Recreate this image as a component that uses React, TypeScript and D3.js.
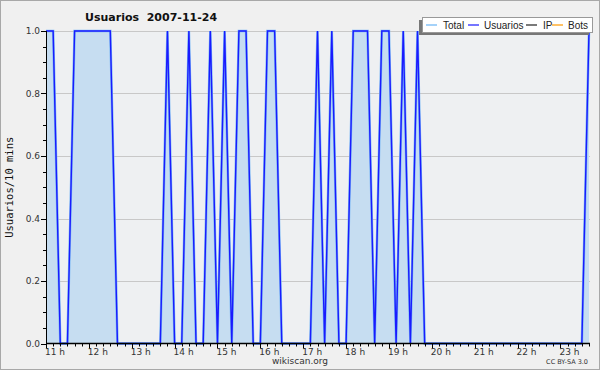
import React from "react";
import * as d3 from "d3";

const hourLabels = ["11 h", "12 h", "13 h", "14 h", "15 h", "16 h", "17 h", "18 h", "19 h", "20 h", "21 h", "22 h", "23 h"];
// 10-minute samples starting 11:00 (77 points, up to 23:40)
const usuarios = [
  1, 1, 0, 0, 1, 1, 1, 1, 1, 1, 0, 0, 0, 0, 0, 0, 0, 1, 0, 0,
  1, 0, 0, 1, 0, 1, 0, 1, 1, 0, 0, 1, 1, 0, 0, 0, 0, 0, 1, 0,
  1, 0, 0, 1, 1, 1, 0, 1, 1, 0, 1, 0, 1, 0, 0, 0, 0, 0, 0, 0,
  0, 0, 0, 0, 0, 0, 0, 0, 0, 0, 0, 0, 0, 0, 0, 0, 1,
];
const total = usuarios;
const yTicks = [0, 0.2, 0.4, 0.6, 0.8, 1.0];
const legendItems = [
  { label: "Total", color: "#6ab4f5" },
  { label: "Usuarios", color: "#1a1aff" },
  { label: "IP", color: "#222222" },
  { label: "Bots", color: "#ff9900" },
];

export default function App() {
  const W = 600, H = 370;
  const left = 46, right = 589, top = 31, bottom = 343.5;
  const x = d3.scaleLinear().domain([0, usuarios.length - 1]).range([left, right]);
  const y = d3.scaleLinear().domain([0, 1]).range([bottom, top]);
  const area = d3.area<number>().x((_, i) => x(i)).y0(y(0)).y1((d) => y(d));
  const line = d3.line<number>().x((_, i) => x(i)).y((d) => y(d));
  const minorY = d3.range(0, 1.0001, 0.05);
  const font = "'DejaVu Sans', Verdana, sans-serif";
  const legFont = "'Liberation Sans', Arial, sans-serif";

  // legend layout
  const legX = 422, legY = 17, legW = 170, legH = 15;
  const legPos = [426, 468, 526, 552];
  const legText = [443, 484, 543, 568];

  return (
    <svg width={W} height={H} style={{ position: "absolute", left: 0, top: 0 }} fontFamily={font}>
      <rect x={0.5} y={0.5} width={W - 1} height={H - 1} fill="#f0f0f0" stroke="#a8a8a8" />
      <rect x={left} y={top} width={right - left + 1} height={bottom - top} fill="#eef0f2" />
      {yTicks.slice(1).map((t) => (
        <line key={"g" + t} x1={left} x2={right + 1} y1={Math.round(y(t)) + 0.5} y2={Math.round(y(t)) + 0.5} stroke="#c8c8c8" />
      ))}
      <path d={area(total) || ""} fill="#c6ddf1" />
      <path d={line(total) || ""} fill="none" stroke="#7ab8f5" strokeWidth={2.5} />
      <path d={line(usuarios) || ""} fill="none" stroke="#1a1aff" strokeWidth={1.4} />

      {/* y axis */}
      <line x1={left + 0.5} x2={left + 0.5} y1={top} y2={bottom} stroke="#000" />
      {minorY.map((t, i) => (
        <line key={"my" + i} x1={left - (i % 4 === 0 ? 5 : 3)} x2={left} y1={Math.round(y(t)) + 0.5} y2={Math.round(y(t)) + 0.5} stroke="#000" />
      ))}
      {yTicks.map((t) => (
        <text key={"yl" + t} x={40} y={y(t) + 3} fontSize={9} textAnchor="end" fill="#333">
          {t.toFixed(1)}
        </text>
      ))}
      <text transform={`translate(13,${(top + bottom) / 2}) rotate(-90)`} fontSize={10.5} textAnchor="middle" fontFamily="'DejaVu Sans Mono', monospace" fill="#111">
        Usuarios/10 mins
      </text>

      {/* x axis */}
      <line x1={left} x2={right + 1} y1={bottom} y2={bottom} stroke="#000" strokeWidth={1.6} />
      {usuarios.map((_, i) => (
        <line key={"mx" + i} x1={Math.round(x(i)) + 0.5} x2={Math.round(x(i)) + 0.5} y1={bottom} y2={bottom + (i % 6 === 0 ? 5 : 3)} stroke="#000" />
      ))}
      {hourLabels.map((h, i) => (
        <text key={h} x={x(i * 6) - 1} y={bottom + 11} fontSize={9} fill="#333">
          {h}
        </text>
      ))}

      {/* title */}
      <text x={85} y={21} fontSize={11} fontWeight="bold" fill="#111">
        Usuarios{"\u00a0\u00a0"}2007-11-24
      </text>

      {/* legend */}
      <rect x={legX - 3} y={legY + 3} width={legW} height={legH} fill="#777" />
      <rect x={legX + 0.5} y={legY + 0.5} width={legW} height={legH} fill="#fff" stroke="#999" />
      {legendItems.map((it, i) => (
        <g key={it.label}>
          <line x1={legPos[i]} x2={legPos[i] + 11} y1={legY + 8} y2={legY + 8} stroke={it.color} strokeWidth={1.2} />
          <text x={legText[i]} y={legY + 12} fontSize={10} fill="#222" fontFamily={legFont}>
            {it.label}
          </text>
        </g>
      ))}

      <text x={300} y={364} fontSize={9} textAnchor="middle" fill="#333">wikiscan.org</text>
      <text x={588} y={364} fontSize={6.5} textAnchor="end" fill="#333">CC BY-SA 3.0</text>
    </svg>
  );
}
